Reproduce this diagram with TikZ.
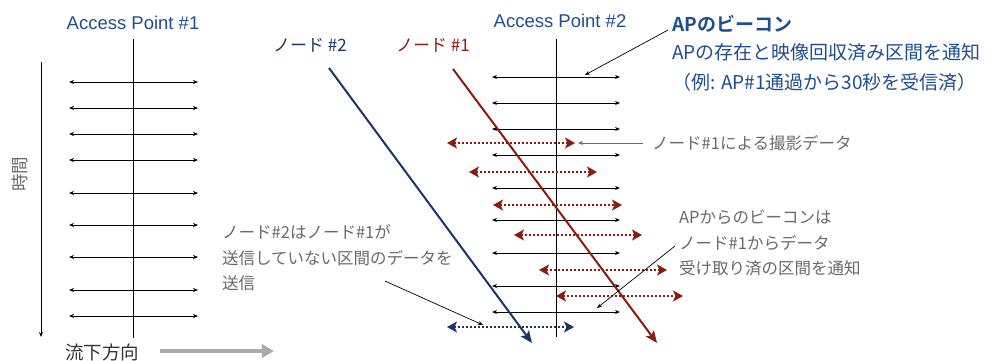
\documentclass[tikz,border=0pt]{standalone}
\usepackage{fontspec}
\setmainfont{Noto Sans CJK JP}[BoldFont={Noto Sans CJK JP Bold}]
\newfontfamily\latinsans{Liberation Sans}
\usetikzlibrary{arrows.meta}
\definecolor{apblue}{HTML}{1F4E8F}
\definecolor{nodered}{HTML}{8B1A10}
\definecolor{nodenavy}{HTML}{1A3566}
\definecolor{annogray}{HTML}{6A6A6A}
\definecolor{flowgray}{HTML}{AAAAAA}
\tikzset{
  beacon/.style={black, line width=0.8pt, {Stealth[length=5pt,width=4pt]}-{Stealth[length=5pt,width=4pt]}},
  apline/.style={black, line width=0.9pt},
  datared/.style={nodered, line width=2.2pt, dash pattern=on 2pt off 2pt,
     {Stealth[length=10pt,width=11pt,inset=2.5pt]}-{Stealth[length=10pt,width=11pt,inset=2.5pt]}},
  datablue/.style={datared, nodenavy},
  track/.style={line width=2pt, -{Stealth[length=12pt,width=10pt,inset=2.5pt]}},
  pointer/.style={black, line width=0.7pt, -{Stealth[length=5pt,width=4pt]}},
  aplabel/.style={apblue, font=\latinsans\fontsize{18.5}{22}\selectfont, inner sep=0pt},
  annot/.style={annogray, font=\fontsize{16.5}{25.5}\selectfont, align=left, inner sep=0pt, anchor=west},
  bluetxt/.style={apblue, font=\fontsize{19}{23}\selectfont, inner sep=0pt, anchor=west},
}
\begin{document}
\begin{tikzpicture}[x=1pt,y=-1pt]
\useasboundingbox (0,0) rectangle (996,360);

% --- Access Point #1 ---
\node[aplabel] (ap1) at (133,23) {Access Point \#1};
\coordinate (ap1top) at (133,39);
\coordinate (ap1bot) at (133,338);
\draw[apline] (ap1top) -- (ap1bot);
\foreach \y [count=\i] in {82,108,134,160,193,225,257,290,316}{
  \coordinate (a1l\i) at (69,\y);
  \coordinate (a1r\i) at (198,\y);
  \draw[beacon] (a1l\i) -- (a1r\i);
}

% --- time axis ---
\coordinate (t0) at (41,62);
\coordinate (t1) at (41,337);
\draw[black, line width=0.8pt, -{Stealth[length=5pt,width=4pt]}] (t0) -- (t1);
\node[rotate=90, color=annogray, font=\fontsize{17.5}{20}\selectfont, inner sep=0pt] (timelbl) at (20,174) {時間};

% --- flow direction ---
\node[font=\fontsize{18.5}{22}\selectfont, color=black!80, inner sep=0pt] (flow) at (102,352) {流下方向};
\coordinate (f0) at (160,351);
\coordinate (f1) at (274,351);
\draw[flowgray, line width=4pt, -{Triangle[length=12pt,width=13pt]}] (f0) -- (f1);

% --- Access Point #2 ---
\node[aplabel] (ap2) at (560,21) {Access Point \#2};
\coordinate (ap2top) at (556,39);
\coordinate (ap2bot) at (556,337);
\draw[apline] (ap2top) -- (ap2bot);
\foreach \y [count=\i] in {77,103,129,155,188,220,253,286,312}{
  \coordinate (a2l\i) at (492,\y);
  \coordinate (a2r\i) at (620,\y);
  \draw[beacon] (a2l\i) -- (a2r\i);
}

% --- node #1 data (red dotted) ---
\foreach \xa/\xb/\y [count=\i] in {447/575/143, 469/597/172, 493/622/205, 514/642/235, 539/667/270, 556/683/296}{
  \coordinate (dl\i) at (\xa,\y);
  \coordinate (dr\i) at (\xb,\y);
  \draw[datared] (dl\i) -- (dr\i);
}
% --- node #2 data (blue dotted) ---
\coordinate (bl) at (447,327);
\coordinate (br) at (574,327);
\draw[datablue] (bl) -- (br);

% --- node tracks ---
\node[nodenavy, font=\fontsize{17}{20}\selectfont, inner sep=0pt] (n2) at (310,45) {ノード \#2};
\node[nodered, font=\fontsize{17}{20}\selectfont, inner sep=0pt] (n1) at (433,45) {ノード \#1};
\coordinate (n2s) at (329,68);
\coordinate (n2e) at (532,343);
\coordinate (n1s) at (453,69);
\coordinate (n1e) at (657,343);
\draw[track, nodenavy] (n2s) -- (n2e);
\draw[track, nodered] (n1s) -- (n1e);

% --- beacon annotation (top right) ---
\node[bluetxt, font=\bfseries\fontsize{19}{23}\selectfont] (bt) at (672,24) {APのビーコン};
\node[bluetxt] (bt2) at (672,52) {APの存在と映像回収済み区間を通知};
\node[bluetxt] (bt3) at (672,82) {（例: AP\#1通過から30秒を受信済）};
\coordinate (btp) at (668,30);
\coordinate (btt) at (585,75);
\draw[pointer] (btp) -- (btt);

% --- data annotation ---
\node[annot] (dt) at (652,143) {ノード\#1による撮影データ};
\coordinate (dtp) at (643,143);
\coordinate (dtt) at (578,143);
\draw[pointer, annogray] (dtp) -- (dtt);

% --- beacon 2 annotation ---
\node[annot] (b2) at (679,243) {APからのビーコンは\\ノード\#1からデータ\\受け取り済の区間を通知};
\coordinate (b2p) at (675,246);
\coordinate (b2t) at (597,308);
\draw[pointer] (b2p) -- (b2t);

% --- node #2 annotation ---
\node[annot] (n2t) at (222,258) {ノード\#2はノード\#1が\\送信していない区間のデータを\\送信};
\coordinate (n2p) at (385,281);
\coordinate (n2q) at (483,325);
\draw[pointer] (n2p) -- (n2q);
\end{tikzpicture}
\end{document}
